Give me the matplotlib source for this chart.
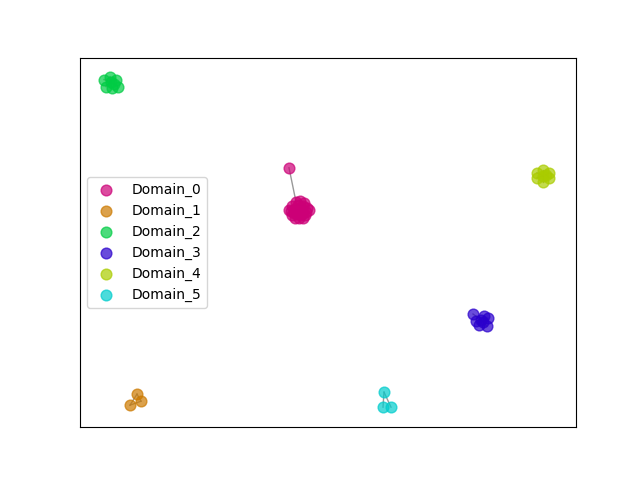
import matplotlib
matplotlib.use("Agg")
import matplotlib.pyplot as plt

# node positions (layout coordinates, y grows downward) per domain
domains = ["Domain_0", "Domain_1", "Domain_2", "Domain_3", "Domain_4", "Domain_5"]
colors = ["#cc0077", "#cc7a00", "#00cc44", "#2a00cc", "#aacc00", "#00cccc"]

d0_x = [289, 296, 300, 304, 292, 298, 303, 307, 291, 295, 299, 302, 306,
        292, 297, 301, 305, 295, 299, 303, 294, 300, 298, 302, 289, 309]
d0_y = [168, 202, 201, 203, 206, 205, 206, 208, 211, 209, 210, 211, 212,
        215, 214, 215, 215, 218, 218, 218, 213, 208, 212, 213, 210, 210]
d1_x = [137, 141, 130]
d1_y = [394, 401, 405]
d2_x = [104, 110, 116, 118, 112, 106, 111, 114]
d2_y = [80, 77, 80, 87, 88, 87, 82, 84]
d3_x = [473, 484, 488, 487, 479, 476, 481, 483]
d3_y = [314, 316, 318, 326, 325, 321, 320, 322]
d4_x = [537, 543, 549, 549, 543, 537, 543, 546]
d4_y = [173, 170, 173, 178, 182, 178, 176, 175]
d5_x = [384, 383, 391]
d5_y = [392, 407, 407]

xs = [d0_x, d1_x, d2_x, d3_x, d4_x, d5_x]
ys = [d0_y, d1_y, d2_y, d3_y, d4_y, d5_y]

# edges as (domain, node index, node index)
edges = [(0, 0, 1), (0, 1, 2), (0, 2, 3), (0, 4, 5), (0, 5, 6), (0, 9, 10),
         (1, 0, 1), (1, 1, 2), (1, 0, 2),
         (2, 0, 6), (2, 1, 6), (2, 2, 7), (2, 3, 7), (2, 4, 6), (2, 5, 6),
         (3, 0, 6), (3, 1, 6), (3, 2, 7), (3, 3, 7), (3, 4, 6), (3, 5, 6),
         (4, 0, 6), (4, 1, 6), (4, 2, 7), (4, 3, 7), (4, 4, 6), (4, 5, 6),
         (5, 0, 1), (5, 0, 2)]

fig, ax = plt.subplots(figsize=(6.4, 4.8), dpi=100)

for d, a, b in edges:
    ax.plot([xs[d][a], xs[d][b]], [ys[d][a], ys[d][b]], color="gray",
            linewidth=1, alpha=0.8, zorder=1)

for name, c, x, y in zip(domains, colors, xs, ys):
    ax.scatter(x, y, s=60, color=c, alpha=0.7, label=name, zorder=2)

ax.set_xlim(80, 576)
ax.set_ylim(427, 58)
ax.set_xticks([])
ax.set_yticks([])
ax.legend(loc="center left")

fig.savefig("out.png")
